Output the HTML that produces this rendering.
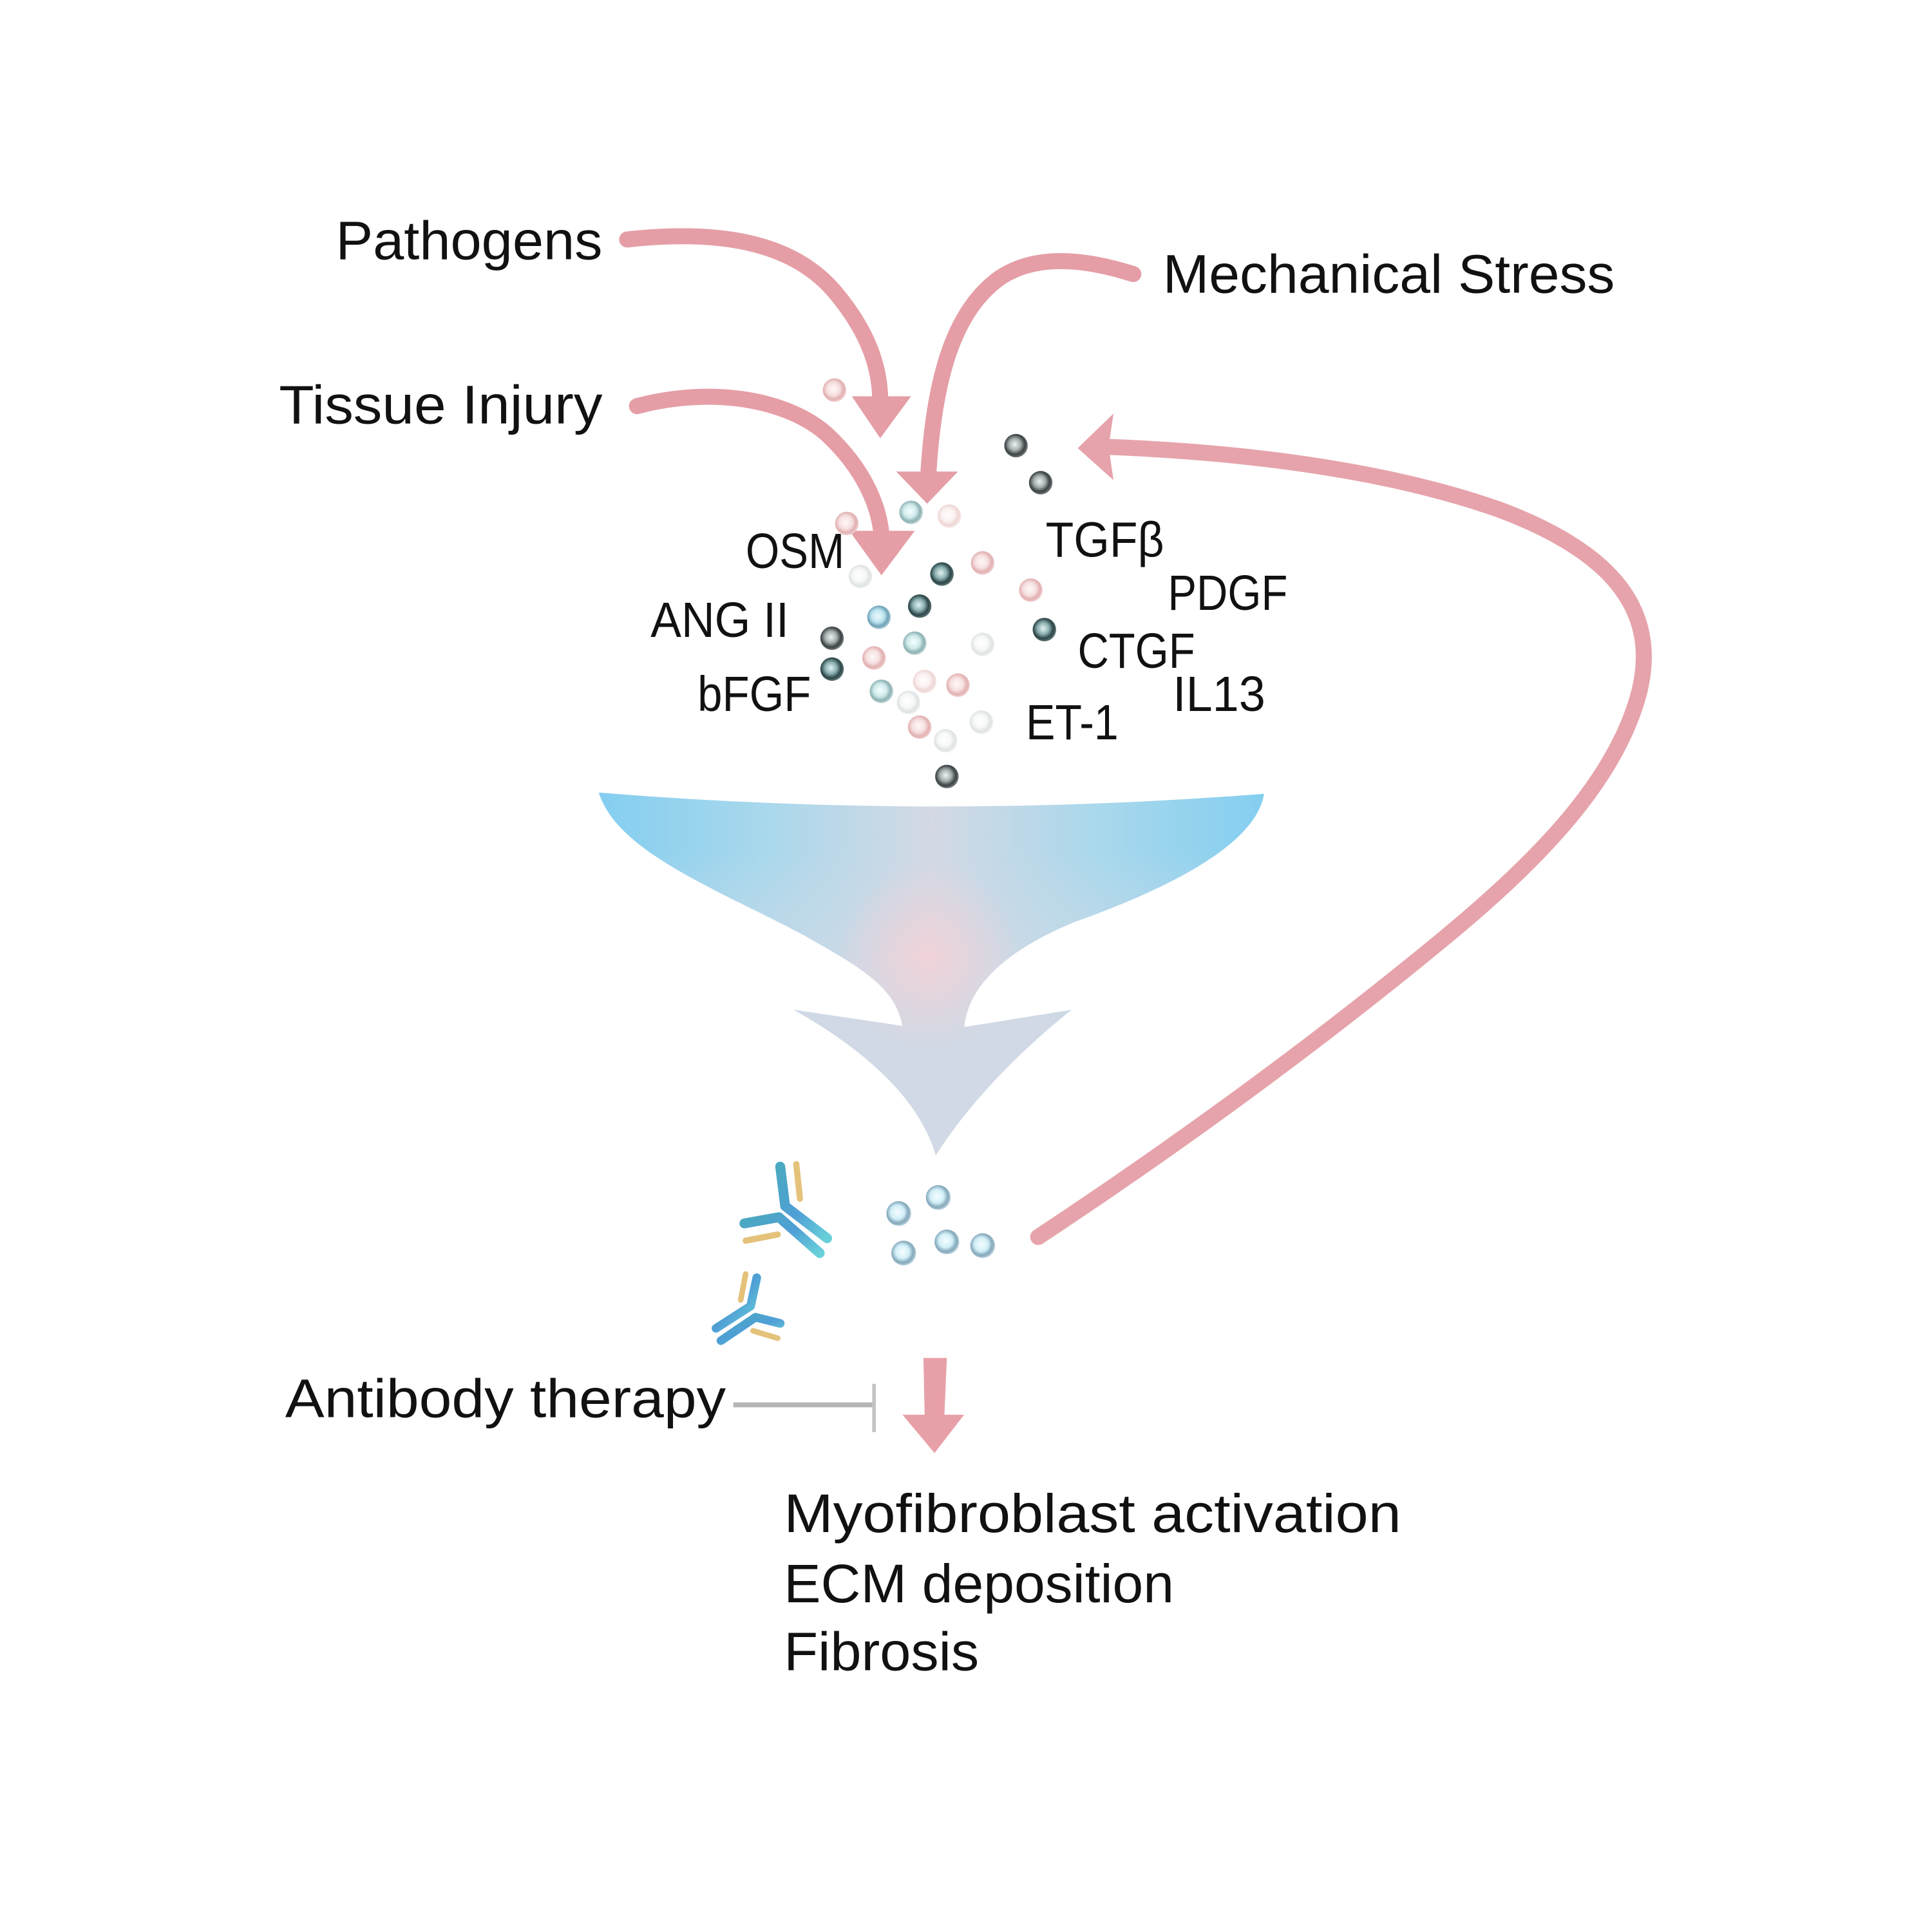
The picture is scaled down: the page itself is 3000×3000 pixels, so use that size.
<!DOCTYPE html>
<html>
<head>
<meta charset="utf-8">
<style>
  html,body{margin:0;padding:0;background:#fff;}
  svg{display:block;}
  text{font-family:"Liberation Sans", sans-serif; fill:#111;}
</style>
</head>
<body>
<svg width="3000" height="3000" viewBox="0 0 1565 1565" xmlns="http://www.w3.org/2000/svg">
  <defs>
    <linearGradient id="fH" x1="485" y1="0" x2="1025" y2="0" gradientUnits="userSpaceOnUse">
      <stop offset="0" stop-color="#84cef0"/>
      <stop offset="0.25" stop-color="#a9d8ec"/>
      <stop offset="0.5" stop-color="#d4d9e4"/>
      <stop offset="0.75" stop-color="#a9d8ec"/>
      <stop offset="1" stop-color="#84cef0"/>
    </linearGradient>
    <linearGradient id="fV" x1="0" y1="690" x2="0" y2="830" gradientUnits="userSpaceOnUse">
      <stop offset="0" stop-color="#d2dae6" stop-opacity="0"/>
      <stop offset="1" stop-color="#d0d9e5" stop-opacity="1"/>
    </linearGradient>
    <radialGradient id="fP" cx="752" cy="775" r="75" gradientUnits="userSpaceOnUse">
      <stop offset="0" stop-color="#f2d2d8" stop-opacity="0.95"/>
      <stop offset="1" stop-color="#f2d2d8" stop-opacity="0"/>
    </radialGradient>
    <clipPath id="fc">
      <path d="M485,642 Q755,664 1024,643 C1018,680 960,715 870,747 C820,768 785,795 781,832 L868,818 C840,840 790,885 758,936 C745,890 700,850 643,818 L731,831 C725,800 700,785 650,757 C580,720 500,690 485,642 Z"/>
    </clipPath>

    <radialGradient id="gDark" cx="0.45" cy="0.45" r="0.55">
      <stop offset="0" stop-color="#eef2f2"/>
      <stop offset="0.45" stop-color="#a6aeae"/>
      <stop offset="0.78" stop-color="#3c4244"/>
      <stop offset="1" stop-color="#707676"/>
    </radialGradient>
    <radialGradient id="gDarkTeal" cx="0.45" cy="0.45" r="0.55">
      <stop offset="0" stop-color="#e2f4f4"/>
      <stop offset="0.45" stop-color="#8cb0b0"/>
      <stop offset="0.78" stop-color="#2c4648"/>
      <stop offset="1" stop-color="#5c7272"/>
    </radialGradient>
    <radialGradient id="gPink" cx="0.45" cy="0.45" r="0.55">
      <stop offset="0" stop-color="#fff8f8"/>
      <stop offset="0.5" stop-color="#f6e0e0"/>
      <stop offset="0.8" stop-color="#e2b0b2"/>
      <stop offset="1" stop-color="#efcccc"/>
    </radialGradient>
    <radialGradient id="gPinkL" cx="0.45" cy="0.45" r="0.55">
      <stop offset="0" stop-color="#ffffff"/>
      <stop offset="0.5" stop-color="#fbf1f1"/>
      <stop offset="0.8" stop-color="#efd6d6"/>
      <stop offset="1" stop-color="#f6e6e6"/>
    </radialGradient>
    <radialGradient id="gVL" cx="0.45" cy="0.45" r="0.55">
      <stop offset="0" stop-color="#ffffff"/>
      <stop offset="0.5" stop-color="#f7f8f8"/>
      <stop offset="0.8" stop-color="#dfe3e3"/>
      <stop offset="1" stop-color="#eceeee"/>
    </radialGradient>
    <radialGradient id="gTeal" cx="0.45" cy="0.45" r="0.55">
      <stop offset="0" stop-color="#f4ffff"/>
      <stop offset="0.5" stop-color="#d0eaea"/>
      <stop offset="0.8" stop-color="#8db2b4"/>
      <stop offset="1" stop-color="#bcd2d2"/>
    </radialGradient>
    <radialGradient id="gBlue" cx="0.45" cy="0.45" r="0.55">
      <stop offset="0" stop-color="#eefaff"/>
      <stop offset="0.5" stop-color="#bde4f0"/>
      <stop offset="0.8" stop-color="#6ea2b6"/>
      <stop offset="1" stop-color="#a8c8d4"/>
    </radialGradient>
    <radialGradient id="gBot" cx="0.45" cy="0.45" r="0.55">
      <stop offset="0" stop-color="#f6fdff"/>
      <stop offset="0.5" stop-color="#d2eff8"/>
      <stop offset="0.8" stop-color="#84a8ba"/>
      <stop offset="1" stop-color="#b2ccd8"/>
    </radialGradient>
    <linearGradient id="abH" x1="0" y1="0" x2="1" y2="1">
      <stop offset="0" stop-color="#4aa9c0"/>
      <stop offset="0.5" stop-color="#4f9fd6"/>
      <stop offset="1" stop-color="#68d0d8"/>
    </linearGradient>
  </defs>

  <!-- Funnel -->
  <g clip-path="url(#fc)">
    <rect x="470" y="630" width="570" height="320" fill="url(#fH)"/>
    <rect x="470" y="630" width="570" height="320" fill="url(#fV)"/>
    <rect x="470" y="630" width="570" height="320" fill="url(#fP)"/>
  </g>

  <!-- Pink input arrows -->
  <g fill="none" stroke="#e59ea6" stroke-linecap="round" stroke-width="13">
    <path d="M508,194 C580,186 640,195 675,235 C705,270 713,300 713,325"/>
    <path d="M516,329 C580,312 640,325 670,352 C700,380 712,410 714,433"/>
    <path d="M918,222 C880,210 840,205 810,225 C775,250 757,300 752,384"/>
  </g>
  <g fill="#e59ea6">
    <polygon points="690,321 738,321 713,355"/>
    <polygon points="688,430 741,430 714,466"/>
    <polygon points="726,382 776,382 751,408"/>
  </g>

  <!-- Feedback arrow -->
  <path d="M841,1002 C950,930 1060,850 1160,768 C1250,695 1310,630 1328,560 C1345,490 1300,445 1215,413 C1150,390 1050,368 898,362" fill="none" stroke="#e6a3ab" stroke-width="13" stroke-linecap="round"/>
  <polygon points="873,363 902,335 898,362 902,389" fill="#e6a3ab"/>

  <!-- Cytokine balls -->
  <g>
    <circle cx="676" cy="316" r="9.5" fill="url(#gPink)"/>
    <circle cx="823" cy="361" r="9.5" fill="url(#gDark)"/>
    <circle cx="843" cy="391" r="9.5" fill="url(#gDark)"/>
    <circle cx="738" cy="415" r="9.5" fill="url(#gTeal)"/>
    <circle cx="769" cy="418" r="9.5" fill="url(#gPinkL)"/>
    <circle cx="686" cy="424" r="9.5" fill="url(#gPink)"/>
    <circle cx="697" cy="467" r="9.5" fill="url(#gVL)"/>
    <circle cx="763" cy="465" r="9.5" fill="url(#gDarkTeal)"/>
    <circle cx="796" cy="456" r="9.5" fill="url(#gPink)"/>
    <circle cx="835" cy="478" r="9.5" fill="url(#gPink)"/>
    <circle cx="745" cy="491" r="9.5" fill="url(#gDarkTeal)"/>
    <circle cx="712" cy="500" r="9.5" fill="url(#gBlue)"/>
    <circle cx="846" cy="510" r="9.5" fill="url(#gDarkTeal)"/>
    <circle cx="674" cy="517" r="9.5" fill="url(#gDark)"/>
    <circle cx="741" cy="521" r="9.5" fill="url(#gTeal)"/>
    <circle cx="796" cy="522" r="9.5" fill="url(#gVL)"/>
    <circle cx="708" cy="533" r="9.5" fill="url(#gPink)"/>
    <circle cx="674" cy="542" r="9.5" fill="url(#gDarkTeal)"/>
    <circle cx="714" cy="560" r="9.5" fill="url(#gTeal)"/>
    <circle cx="749" cy="552" r="9.5" fill="url(#gPinkL)"/>
    <circle cx="776" cy="555" r="9.5" fill="url(#gPink)"/>
    <circle cx="736" cy="569" r="9.5" fill="url(#gVL)"/>
    <circle cx="745" cy="589" r="9.5" fill="url(#gPink)"/>
    <circle cx="766" cy="600" r="9.5" fill="url(#gVL)"/>
    <circle cx="795" cy="585" r="9.5" fill="url(#gVL)"/>
    <circle cx="767" cy="629" r="9.5" fill="url(#gDark)"/>
  </g>

  <!-- Bottom balls -->
  <g>
    <circle cx="760" cy="970" r="10" fill="url(#gBot)"/>
    <circle cx="728" cy="983" r="10" fill="url(#gBot)"/>
    <circle cx="767" cy="1006" r="10" fill="url(#gBot)"/>
    <circle cx="732" cy="1015" r="10" fill="url(#gBot)"/>
    <circle cx="796" cy="1009" r="10" fill="url(#gBot)"/>
  </g>

  <!-- Antibodies -->
  <g fill="none" stroke-linecap="round" stroke-linejoin="round">
    <polyline points="632,945 636,977 670,1003" stroke="url(#abH)" stroke-width="8"/>
    <polyline points="603,991 631,986 664,1015" stroke="url(#abH)" stroke-width="8"/>
    <line x1="645" y1="943" x2="648" y2="971" stroke="#e4c27a" stroke-width="5"/>
    <line x1="604" y1="1005" x2="630" y2="1000" stroke="#e4c27a" stroke-width="5"/>

    <polyline points="613,1035 608,1058 580,1076" stroke="url(#abH)" stroke-width="7"/>
    <polyline points="632,1072 612,1067 584,1086" stroke="url(#abH)" stroke-width="7"/>
    <line x1="604" y1="1032" x2="600" y2="1053" stroke="#e4c27a" stroke-width="4.5"/>
    <line x1="610" y1="1078" x2="630" y2="1084" stroke="#e4c27a" stroke-width="4.5"/>
  </g>

  <!-- Inhibit line -->
  <line x1="594" y1="1138" x2="708" y2="1138" stroke="#b5b5b5" stroke-width="4"/>
  <line x1="708" y1="1121" x2="708" y2="1160" stroke="#c4c4c4" stroke-width="3"/>

  <!-- Bottom down arrow -->
  <polygon points="748,1100 767,1100 765,1146 781,1146 757,1177 731,1146 749,1146" fill="#e8a0a8"/>

  <!-- Labels -->
  <text x="272" y="210" font-size="44" textLength="216" lengthAdjust="spacingAndGlyphs">Pathogens</text>
  <text x="226" y="343" font-size="44" textLength="262" lengthAdjust="spacingAndGlyphs">Tissue Injury</text>
  <text x="942" y="237" font-size="44" textLength="366" lengthAdjust="spacingAndGlyphs">Mechanical Stress</text>

  <text x="604" y="460" font-size="40" textLength="80" lengthAdjust="spacingAndGlyphs">OSM</text>
  <text x="847" y="451" font-size="40" textLength="96" lengthAdjust="spacingAndGlyphs">TGFβ</text>
  <text x="946" y="494" font-size="40" textLength="97" lengthAdjust="spacingAndGlyphs">PDGF</text>
  <text x="527" y="516" font-size="40" textLength="112" lengthAdjust="spacingAndGlyphs">ANG II</text>
  <text x="873" y="541" font-size="40" textLength="95" lengthAdjust="spacingAndGlyphs">CTGF</text>
  <text x="565" y="576" font-size="40" textLength="92" lengthAdjust="spacingAndGlyphs">bFGF</text>
  <text x="950" y="576" font-size="40" textLength="75" lengthAdjust="spacingAndGlyphs">IL13</text>
  <text x="831" y="599" font-size="40" textLength="75" lengthAdjust="spacingAndGlyphs">ET-1</text>

  <text x="231" y="1148" font-size="44" textLength="357" lengthAdjust="spacingAndGlyphs">Antibody therapy</text>

  <text x="635" y="1241" font-size="44" textLength="500" lengthAdjust="spacingAndGlyphs">Myofibroblast activation</text>
  <text x="635" y="1298" font-size="44" textLength="316" lengthAdjust="spacingAndGlyphs">ECM deposition</text>
  <text x="635" y="1353" font-size="44" textLength="158" lengthAdjust="spacingAndGlyphs">Fibrosis</text>
</svg>
</body>
</html>
